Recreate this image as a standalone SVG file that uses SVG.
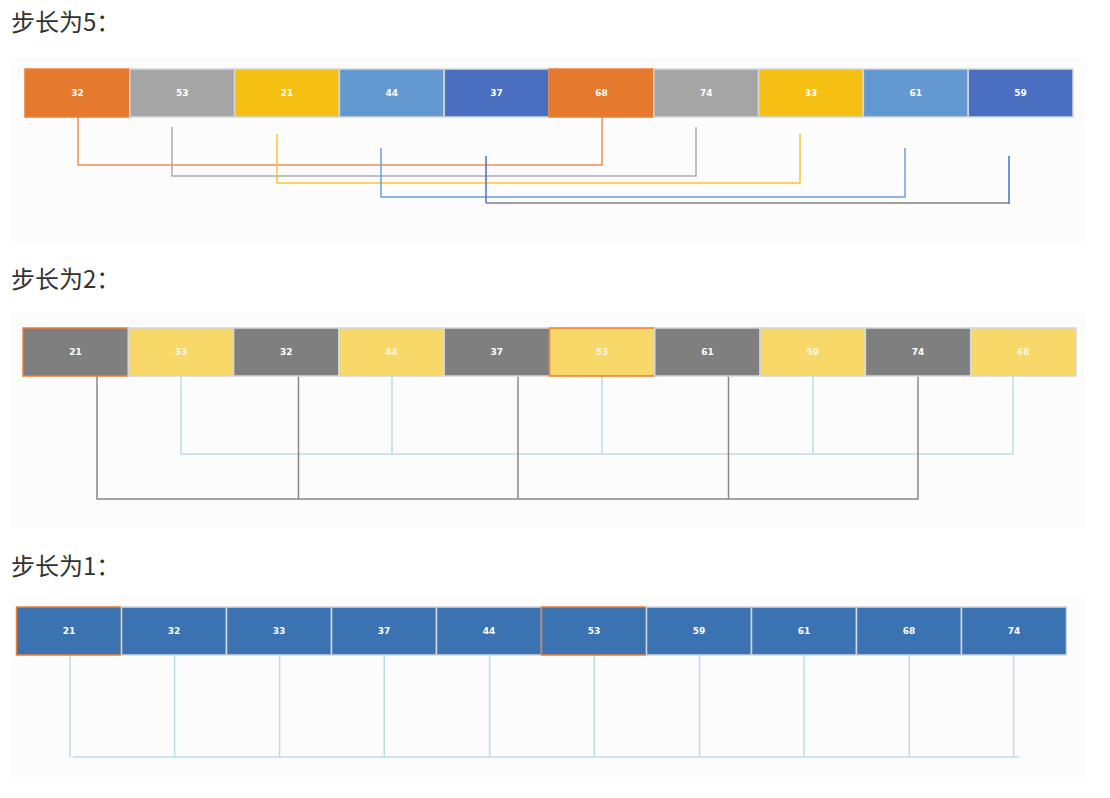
<svg xmlns="http://www.w3.org/2000/svg" width="1110" height="798" viewBox="0 0 1110 798">
<style>
.title{font-family:"Noto Sans CJK SC","Noto Sans",sans-serif;font-size:24px;fill:#333333}
.panel{fill:#fcfcfc}
.cell{stroke:#d2d8de;stroke-width:1.5}
.lbl{font-family:"DejaVu Sans",Verdana,sans-serif;font-size:9px;font-weight:bold;fill:#ffffff;text-anchor:middle;dominant-baseline:central}
.lblp{fill:#fdf6e0}
.hl{stroke:#ed7d31}
.c{fill:none;stroke-width:1.5}
.or{fill:#e57a2f}.gy{fill:#a5a5a5}.ye{fill:#f6bf14}.lb{fill:#6399d0}.db{fill:#4a6fc1}
.dg{fill:#7f7f7f}.ly{fill:#f9d86a}.bl{fill:#3b72b1}
</style>
<rect x="0" y="0" width="1110" height="798" fill="#ffffff"/>
<rect class="panel" x="10" y="57" width="1076" height="186"/>
<rect class="panel" x="10" y="312" width="1076" height="216"/>
<rect class="panel" x="10" y="597" width="1076" height="181"/>
<text class="title" x="11" y="31">步长为5：</text>
<text class="title" x="11" y="288">步长为2：</text>
<text class="title" x="11" y="575">步长为1：</text>

<g id="connectors">
<g id="conn-step5">
<polyline class="c" stroke="#ef8e55" points="78,117 78,165 602,165 602,117"/>
<polyline class="c" stroke="#ababab" points="172,127 172,176 696,176 696,127"/>
<polyline class="c" stroke="#f7c533" points="277,134 277,183 800,183 800,134"/>
<polyline class="c" stroke="#6a9ed6" points="381,148 381,197 905,197 905,148"/>
<polyline class="c" stroke="#7f7f7f" points="486,203 1009,203"/>
<line class="c" stroke="#4a6fc1" x1="486" y1="156" x2="486" y2="203"/>
<line class="c" stroke="#4a6fc1" x1="1009" y1="156" x2="1009" y2="204"/>
</g>
<g id="conn-step2">
<polyline class="c" stroke="#bcdde8" points="181,376 181,454 1013,454 1013,376"/>
<line class="c" stroke="#bcdde8" x1="392" y1="376" x2="392" y2="454"/>
<line class="c" stroke="#bcdde8" x1="602" y1="376" x2="602" y2="454"/>
<line class="c" stroke="#bcdde8" x1="813" y1="376" x2="813" y2="454"/>
<polyline class="c" stroke="#888888" points="97,376 97,499 918,499 918,376"/>
<line class="c" stroke="#888888" x1="298.5" y1="376" x2="298.5" y2="499"/>
<line class="c" stroke="#888888" x1="518" y1="376" x2="518" y2="499"/>
<line class="c" stroke="#888888" x1="728.5" y1="376" x2="728.5" y2="499"/>
</g>
<g id="conn-step1">
<line class="c" stroke="#bcdde8" x1="70" y1="655" x2="70" y2="757"/>
<line class="c" stroke="#bcdde8" x1="73" y1="757" x2="1019" y2="757"/>
<line class="c" stroke="#bcdde8" x1="174.6" y1="655" x2="174.6" y2="757"/>
<line class="c" stroke="#bcdde8" x1="279.6" y1="655" x2="279.6" y2="757"/>
<line class="c" stroke="#bcdde8" x1="384.3" y1="655" x2="384.3" y2="757"/>
<line class="c" stroke="#bcdde8" x1="489.6" y1="655" x2="489.6" y2="757"/>
<line class="c" stroke="#bcdde8" x1="594.3" y1="655" x2="594.3" y2="757"/>
<line class="c" stroke="#bcdde8" x1="699.6" y1="655" x2="699.6" y2="757"/>
<line class="c" stroke="#bcdde8" x1="804" y1="655" x2="804" y2="757"/>
<line class="c" stroke="#bcdde8" x1="909.3" y1="655" x2="909.3" y2="757"/>
<line class="c" stroke="#bcdde8" x1="1013.6" y1="655" x2="1013.6" y2="757"/>
</g>
</g>

<g id="row-step5">
<g id="s5-n0"><rect class="cell or hl" x="25" y="69" width="104.8" height="48"/><text class="lbl" x="77.4" y="93">32</text></g>
<g id="s5-n1"><rect class="cell gy" x="129.8" y="69" width="104.8" height="48"/><text class="lbl" x="182.2" y="93">53</text></g>
<g id="s5-n2"><rect class="cell ye" x="234.6" y="69" width="104.8" height="48"/><text class="lbl" x="287" y="93">21</text></g>
<g id="s5-n3"><rect class="cell lb" x="339.4" y="69" width="104.8" height="48"/><text class="lbl" x="391.8" y="93">44</text></g>
<g id="s5-n4"><rect class="cell db" x="444.2" y="69" width="104.8" height="48"/><text class="lbl" x="496.6" y="93">37</text></g>
<g id="s5-n5"><rect class="cell or hl" x="549" y="69" width="104.8" height="48"/><text class="lbl" x="601.4" y="93">68</text></g>
<g id="s5-n6"><rect class="cell gy" x="653.8" y="69" width="104.8" height="48"/><text class="lbl" x="706.2" y="93">74</text></g>
<g id="s5-n7"><rect class="cell ye" x="758.6" y="69" width="104.8" height="48"/><text class="lbl" x="811" y="93">33</text></g>
<g id="s5-n8"><rect class="cell lb" x="863.4" y="69" width="104.8" height="48"/><text class="lbl" x="915.8" y="93">61</text></g>
<g id="s5-n9"><rect class="cell db" x="968.2" y="69" width="104.8" height="48"/><text class="lbl" x="1020.6" y="93">59</text></g>
</g>

<g id="row-step2">
<g id="s2-n0"><rect class="cell dg hl" x="23" y="328" width="105.3" height="48"/><text class="lbl" x="75.6" y="352">21</text></g>
<g id="s2-n1"><rect class="cell ly" x="128.3" y="328" width="105.3" height="48"/><text class="lbl lblp" x="180.9" y="352">33</text></g>
<g id="s2-n2"><rect class="cell dg" x="233.6" y="328" width="105.3" height="48"/><text class="lbl" x="286.2" y="352">32</text></g>
<g id="s2-n3"><rect class="cell ly" x="338.9" y="328" width="105.3" height="48"/><text class="lbl lblp" x="391.5" y="352">44</text></g>
<g id="s2-n4"><rect class="cell dg" x="444.2" y="328" width="105.3" height="48"/><text class="lbl" x="496.8" y="352">37</text></g>
<g id="s2-n5"><rect class="cell ly hl" x="549.5" y="328" width="105.3" height="48"/><text class="lbl lblp" x="602.1" y="352">53</text></g>
<g id="s2-n6"><rect class="cell dg" x="654.8" y="328" width="105.3" height="48"/><text class="lbl" x="707.4" y="352">61</text></g>
<g id="s2-n7"><rect class="cell ly" x="760.1" y="328" width="105.3" height="48"/><text class="lbl lblp" x="812.7" y="352">59</text></g>
<g id="s2-n8"><rect class="cell dg" x="865.4" y="328" width="105.3" height="48"/><text class="lbl" x="918" y="352">74</text></g>
<g id="s2-n9"><rect class="cell ly" x="970.7" y="328" width="105.3" height="48"/><text class="lbl lblp" x="1023.3" y="352">68</text></g>
</g>

<g id="row-step1">
<g id="s1-n0"><rect class="cell bl hl" x="16.5" y="607" width="105" height="48"/><text class="lbl" x="69" y="631">21</text></g>
<g id="s1-n1"><rect class="cell bl" x="121.5" y="607" width="105" height="48"/><text class="lbl" x="174" y="631">32</text></g>
<g id="s1-n2"><rect class="cell bl" x="226.5" y="607" width="105" height="48"/><text class="lbl" x="279" y="631">33</text></g>
<g id="s1-n3"><rect class="cell bl" x="331.5" y="607" width="105" height="48"/><text class="lbl" x="384" y="631">37</text></g>
<g id="s1-n4"><rect class="cell bl" x="436.5" y="607" width="105" height="48"/><text class="lbl" x="489" y="631">44</text></g>
<g id="s1-n5"><rect class="cell bl hl" x="541.5" y="607" width="105" height="48"/><text class="lbl" x="594" y="631">53</text></g>
<g id="s1-n6"><rect class="cell bl" x="646.5" y="607" width="105" height="48"/><text class="lbl" x="699" y="631">59</text></g>
<g id="s1-n7"><rect class="cell bl" x="751.5" y="607" width="105" height="48"/><text class="lbl" x="804" y="631">61</text></g>
<g id="s1-n8"><rect class="cell bl" x="856.5" y="607" width="105" height="48"/><text class="lbl" x="909" y="631">68</text></g>
<g id="s1-n9"><rect class="cell bl" x="961.5" y="607" width="105" height="48"/><text class="lbl" x="1014" y="631">74</text></g>
</g>
</svg>
